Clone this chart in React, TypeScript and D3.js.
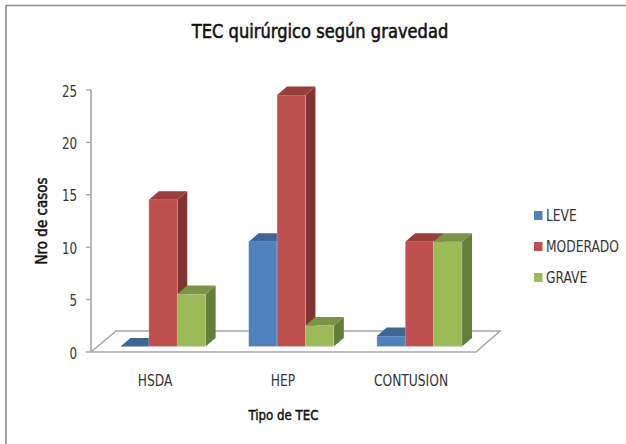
import React from "react";
import * as d3 from "d3";

const categories = ["HSDA", "HEP", "CONTUSION"];
const seriesNames = ["LEVE", "MODERADO", "GRAVE"];
const leve = [0, 10, 1];
const moderado = [14, 24, 10];
const grave = [5, 2, 10];
const yTicks = [0, 5, 10, 15, 20, 25];

const front = ["#4F81BD", "#C0504D", "#9BBB59"];
const side = ["#355B86", "#7F3432", "#667C3A"];
const topc = ["#3E6595", "#973F3D", "#7A9345"];

const FONT = "'DejaVu Sans Condensed','DejaVu Sans',sans-serif";
const DX = 10;
const DY = 8.5;

function Squeezed({ x, y, sx = 0.88, anchor = "middle", size, color = "#333", bold = 0, rotate = 0, children }: any) {
  return (
    <text
      transform={`translate(${x},${y}) rotate(${rotate}) scale(${sx},1)`}
      textAnchor={anchor}
      fontSize={size}
      fill={color}
      style={bold ? { stroke: color, strokeWidth: bold } : undefined}
    >
      {children}
    </text>
  );
}

export default function App() {
  const values = [leve, moderado, grave];
  const axisY = d3.scaleLinear().domain([0, 25]).range([352, 90]);
  const barY = d3.scaleLinear().domain([0, 25]).range([346.5, 84.5]);
  const xGroup = d3.scaleBand<string>().domain(categories).range([120.5, 462]).paddingInner(0.336);
  const xSeries = d3.scaleBand<string>().domain(seriesNames).range([0, xGroup.bandwidth()]);
  const w = xSeries.bandwidth();
  const gray = "#a6a6a6";

  const boxes: React.ReactNode[] = [];
  categories.forEach((c, ci) => {
    seriesNames.forEach((s, si) => {
      const v = values[si][ci];
      const x0 = xGroup(c)! + xSeries(s)!;
      const y0 = barY(v);
      const b = barY(0);
      const path = d3.path();
      path.moveTo(x0, y0);
      path.lineTo(x0 + DX, y0 - DY);
      path.lineTo(x0 + w + DX, y0 - DY);
      path.lineTo(x0 + w, y0);
      path.closePath();
      const sp = d3.path();
      sp.moveTo(x0 + w, y0);
      sp.lineTo(x0 + w + DX, y0 - DY);
      sp.lineTo(x0 + w + DX, b - DY);
      sp.lineTo(x0 + w, b);
      sp.closePath();
      boxes.push(
        <g key={c + s}>
          {v > 0 && <path d={sp.toString()} fill={side[si]} />}
          {v > 0 && <rect x={x0} y={y0} width={w} height={b - y0} fill={front[si]} stroke="#dfe8f0" strokeOpacity={0.5} strokeWidth={0.6} />}
          <path d={path.toString()} fill={topc[si]} />
        </g>
      );
    });
  });

  return (
    <svg width={626} height={444} style={{ position: "absolute", left: 0, top: 0, background: "#fff" }} fontFamily={FONT}>
      <path d="M6 444 V5.5 H626" fill="none" stroke="#8c8c8c" strokeWidth={1.6} />
      <Squeezed x={320} y={37.5} size={19.5} sx={0.93} color="#111" bold={0.55}>TEC quirúrgico según gravedad</Squeezed>

      <path d="M91 90 V352 H476 L500 331 H116 L91 352" fill="none" stroke={gray} strokeWidth={1.6} />
      {yTicks.map((t) => (
        <g key={t}>
          <line x1={86} x2={91} y1={axisY(t)} y2={axisY(t)} stroke={gray} strokeWidth={1.4} />
          <Squeezed x={77} y={axisY(t) + 6.5} anchor="end" size={15}>{t}</Squeezed>
        </g>
      ))}
      {boxes}
      {categories.map((c, i) => (
        <Squeezed key={c} x={[155, 283, 411][i]} y={386} size={15} sx={0.91}>{c}</Squeezed>
      ))}
      <Squeezed x={283.5} y={420} size={14} sx={0.94} color="#111" bold={0.45}>Tipo de TEC</Squeezed>
      <Squeezed x={47} y={221} size={15} sx={1.0} color="#111" bold={0.5} rotate={-90}>Nro de casos</Squeezed>
      {seriesNames.map((s, i) => (
        <g key={s}>
          <rect x={534} y={211 + i * 31} width={8.5} height={9} fill={front[i]} />
          <Squeezed x={546} y={221 + i * 31} anchor="start" size={15} sx={0.91}>{s}</Squeezed>
        </g>
      ))}
    </svg>
  );
}
